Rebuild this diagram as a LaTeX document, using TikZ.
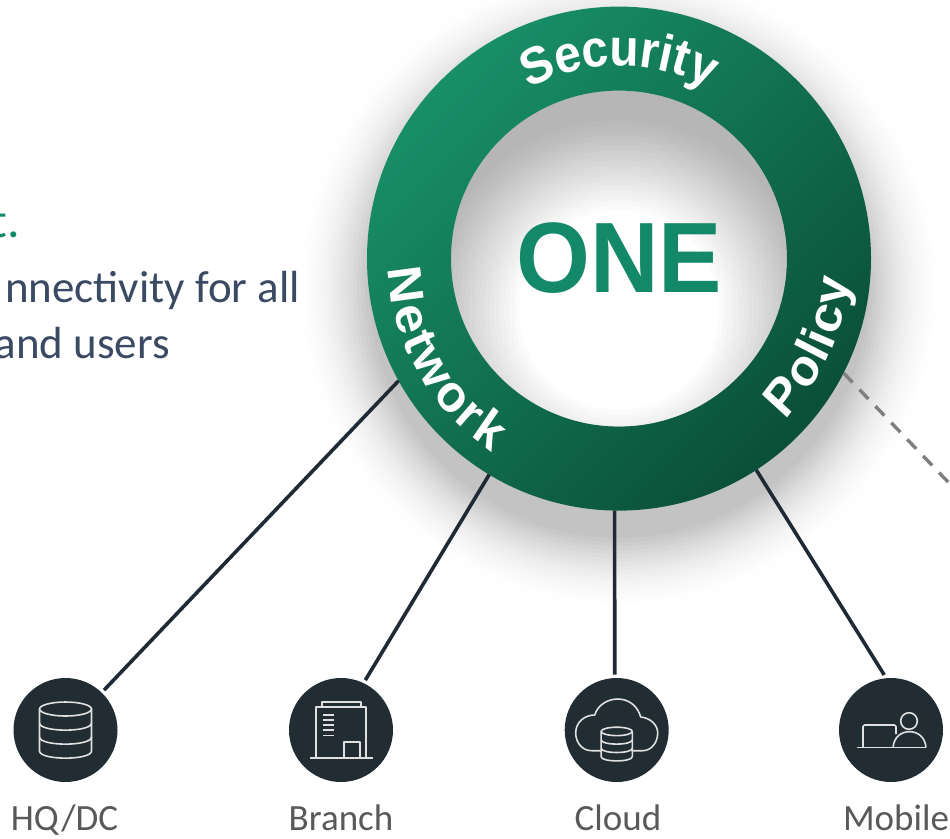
\documentclass[tikz,border=0pt]{standalone}
\usepackage{fontspec}
\setmainfont{Carlito}
\newfontfamily\arialb[BoldFont={Liberation Sans Bold}]{Liberation Sans}
\usetikzlibrary{calc}
\definecolor{ringlight}{HTML}{188F68}
\definecolor{ringmid}{HTML}{15805E}
\definecolor{ringdark}{HTML}{0A4F37}
\definecolor{brandgreen}{HTML}{14896A}
\definecolor{iconbg}{HTML}{212C33}
\definecolor{iconline}{HTML}{E0E0E0}
\definecolor{linkcol}{HTML}{1F2A35}
\definecolor{labelcol}{HTML}{595959}
\definecolor{bodycol}{HTML}{3B4A63}
\definecolor{dashcol}{HTML}{7F7F7F}
\tikzset{
  x=1pt,y=-1pt,
  iconcircle/.style={circle,fill=iconbg,minimum size=104pt,inner sep=0pt,outer sep=3.5pt},
  iconstroke/.style={draw=iconline,line width=1.6pt,line join=round},
  link/.style={draw=linkcol,line width=3.6pt},
  dashlink/.style={draw=dashcol,line width=3.4pt,dash pattern=on 13pt off 10pt},
  caption/.style={font=\fontsize{37}{37}\selectfont,text=labelcol,anchor=base,inner sep=0pt},
  bodytext/.style={font=\fontsize{45}{45}\selectfont,text=bodycol,anchor=base east,inner sep=0pt},
  ringch/.style={font=\arialb\bfseries\fontsize{52}{52}\selectfont,text=white,anchor=base,inner sep=0pt,xscale=.92},
  pics/dbicon/.style={code={
    \draw[iconstroke] (0,-21) ellipse [x radius=26pt,y radius=7pt];
    \draw[iconstroke] (-26,-21) -- (-26,21) .. controls (-26,30.5) and (26,30.5) .. (26,21) -- (26,-21);
    \draw[iconstroke] (-26,-7) .. controls (-26,2.5) and (26,2.5) .. (26,-7);
    \draw[iconstroke] (-26,7) .. controls (-26,16.5) and (26,16.5) .. (26,7);
  }},
}
\begin{document}
\begin{tikzpicture}
\useasboundingbox (0,0) rectangle (950,838);
\fill[white] (0,0) rectangle (950,838);
\coordinate (rc) at (619,258.6);
\coordinate (holeshadow) at (619,310);
% outer soft shadow
\foreach \r in {318,314,...,250}{
  \fill[black,opacity={0.004+0.0011*(318-\r)/4}] (619,288) circle [radius=\r pt];
}
% inner shadow
\begin{scope}
  \clip (rc) circle [radius=168pt];
  \fill[white] (rc) circle [radius=168pt];
  \foreach \r in {190,185,...,100}{
    \fill[black,opacity=.014,even odd rule] (rc) circle [radius=200pt] (holeshadow) circle [radius=\r pt];
  }
\end{scope}
% ring
\node[circle,minimum size=504pt,inner sep=0pt,outer sep=0pt] (ring) at (rc) {};
\path[even odd rule,shade,top color=ringlight,middle color=ringmid,bottom color=ringdark,shading angle=45]
  (rc) circle [radius=252pt] (rc) circle [radius=168pt];
\node[font=\arialb\bfseries\fontsize{100}{100}\selectfont,text=brandgreen,inner sep=0pt,xscale=.95] (one) at (619.3,258.5) {ONE};
% curved labels
\foreach \ch/\a [count=\i] in {S/113.2,e/104.4,c/96.7,u/88.5,r/81.4,i/76.8,t/72.5,y/66}
  \node[ringch,rotate={\a-90}] (sec\i) at ({619+193*cos(\a)},{258.6-193*sin(\a)}) {\ch};
\foreach \ch/\a [count=\i] in {N/187,e/196.3,t/202.6,w/210.2,o/219.8,r/226.7,k/233.4}
  \node[ringch,rotate={\a+90}] (net\i) at ({619+231*cos(\a)},{258.6-231*sin(\a)}) {\ch};
\foreach \ch/\a [count=\i] in {P/-40,o/-31.5,l/-25.5,i/-21.8,c/-16,y/-8.5}
  \node[ringch,rotate={\a+90}] (pol\i) at ({619+231*cos(\a)},{258.6-231*sin(\a)}) {\ch};
% left text
\begin{scope}
  \clip (0,0) rectangle (950,838);
  \node[font=\fontsize{50}{50}\selectfont,text=brandgreen,anchor=base east,inner sep=0pt] (head) at (20,237) {t.};
  \node[bodytext] (body1) at (300,302) {nnectivity for all};
  \node[bodytext] (body2) at (170,358) {and users};
\end{scope}
% icons
\node[iconcircle] (hq) at (65.5,730) {};
\node[iconcircle] (branch) at (341,730) {};
\node[iconcircle] (cloud) at (616.7,730) {};
\node[iconcircle] (mobile) at (891,730) {};
% connectors
\draw[link] (ring.209) -- (hq.46);
\draw[link] (ring.239) -- (branch.64);
\draw[link] (ring.269) -- (cloud.92);
\draw[link] (ring.303.6) -- (mobile.97);
\coordinate (dashend) at (950,484);
\draw[dashlink] (ring.333) -- (dashend);
% icon glyphs
\pic at (hq) {dbicon};
\begin{scope}[shift={(branch)}]
  \draw[iconstroke] (-19,-23) -- (-19,-28) -- (20,-28) -- (20,-23);
  \draw[iconstroke] (-25,28) -- (-25,-23) -- (25,-23) -- (25,28);
  \draw[iconstroke] (-31,28) -- (32,28);
  \draw[iconstroke] (3,28) -- (3,12) -- (19,12) -- (19,28);
  \foreach \w in {-15,-10,-5,0,5.6}
    \draw[iconstroke] (-18,\w) -- (-7,\w);
\end{scope}
\begin{scope}[shift={(cloud)}]
  \draw[iconstroke] (-15,20.7) -- (-25,20.7) .. controls (-35,20.7) and (-41,12) .. (-41,3)
     .. controls (-41,-8) and (-32,-15) .. (-22,-15)
     .. controls (-19,-25) and (-9,-31) .. (1,-31)
     .. controls (12,-31) and (21,-24) .. (24,-13)
     .. controls (34,-12) and (41,-5) .. (41,3)
     .. controls (41,12) and (35,20.7) .. (26,20.7) -- (15,20.7);
  \pic[scale=.6] at (0,14) {dbicon};
\end{scope}
\begin{scope}[shift={(mobile)}]
  \draw[iconstroke,rounded corners=1.5pt] (-28,17.5) -- (-28,-5) -- (5,-5) -- (5,4);
  \draw[iconstroke] (-34,17.5) -- (35,17.5);
  \draw[iconstroke] (18,-9) circle [radius=8.3pt];
  \draw[iconstroke] (2,17.5) .. controls (3,7) and (10,1.7) .. (18.5,1.7) .. controls (27,1.7) and (34,7) .. (35,17.5);
\end{scope}
% captions
\node[caption] (c1) at (64.5,830) {HQ/DC};
\node[caption] (c2) at (341,830) {Branch};
\node[caption] (c3) at (618,830) {Cloud};
\node[caption] (c4) at (896,830) {Mobile};
\end{tikzpicture}
\end{document}
